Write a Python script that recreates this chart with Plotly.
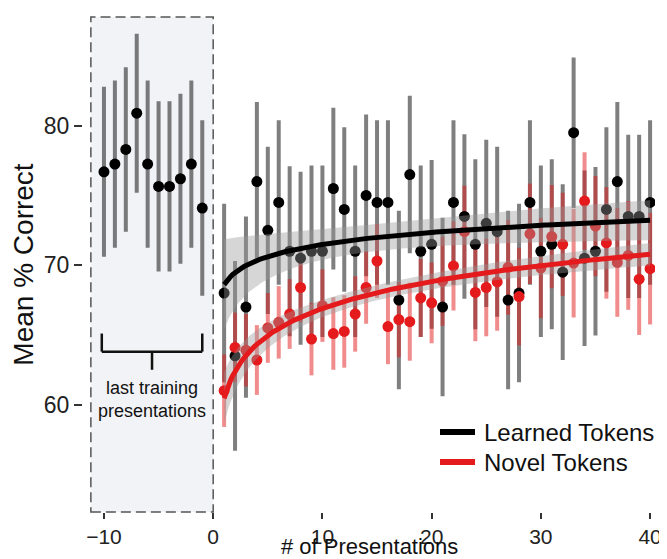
import numpy as np
import plotly.graph_objects as go

# ---------------- data ----------------
train_x = [-10, -9, -8, -7, -6, -5, -4, -3, -2, -1]
train_mean = [76.7, 77.25, 78.3, 80.9, 77.25, 75.65, 75.65, 76.2, 77.25, 74.1]
train_err = [6.1, 6.0, 5.9, 5.7, 6.0, 6.1, 6.1, 6.1, 6.0, 6.3]

test_x = list(range(1, 41))
learned_mean = [68.0, 63.5, 67.0, 76.0, 72.5, 74.5, 71.0, 70.5, 71.0, 71.0,
                75.5, 74.0, 71.0, 75.0, 74.5, 74.5, 67.5, 76.5, 71.0, 71.5,
                67.0, 74.5, 73.5, 71.5, 73.0, 72.4, 67.5, 68.0, 74.5, 71.0,
                71.5, 69.5, 79.5, 70.5, 71.0, 74.0, 76.0, 73.5, 73.5, 74.5]
learned_err = [6.4, 6.8, 6.5, 5.7, 6.0, 5.9, 6.1, 6.2, 6.15, 6.15,
               5.8, 5.9, 6.15, 5.8, 5.9, 5.9, 6.4, 5.65, 6.15, 6.05,
               6.4, 5.9, 5.9, 6.1, 6.0, 6.1, 6.4, 6.4, 5.9, 6.15,
               6.1, 6.3, 5.4, 6.3, 6.05, 5.9, 5.7, 5.85, 5.85, 5.9]
novel_mean = [61.0, 64.1, 63.9, 63.2, 65.5, 65.9, 66.5, 68.4, 64.7, 67.1,
              65.1, 65.25, 66.5, 68.4, 70.3, 65.6, 66.1, 65.95, 67.65, 67.3,
              68.85, 69.95, 72.4, 68.05, 68.4, 68.8, 69.85, 67.75, 72.25, 69.8,
              72.05, 71.5, 70.15, 74.6, 72.8, 71.6, 70.2, 70.7, 69.0, 69.75]
novel_err = [2.6, 2.5, 2.6, 2.5, 2.5, 2.6, 2.5, 2.5, 2.6, 2.6,
             2.6, 2.6, 2.7, 2.6, 2.65, 2.7, 2.7, 2.8, 2.8, 2.9,
             3.2, 3.2, 3.3, 3.5, 3.5, 3.5, 3.4, 3.5, 3.6, 3.6,
             3.7, 3.7, 3.9, 3.5, 3.6, 4.0, 3.9, 3.9, 4.0, 4.0]

x_ticks = [-10, 0, 10, 20, 30, 40]
y_ticks = [60, 70, 80]
series_names = ["Learned Tokens", "Novel Tokens"]

# ---------------- style ----------------
BLACK = "#000000"
RED = "#E41A1C"
FONT = "Liberation Sans, Arial, Helvetica, sans-serif"
OFF = 8  # default page body margin around the figure
W, H = 667 - OFF, 559 - OFF
ML, MR, MT, MB = 83 - OFF, 12, 17 - OFF, 47
PW, PH = W - ML - MR, H - MT - MB
X_RANGE = [-11.92, 40.45]
Y_RANGE = [52.3, 87.8]
BOX_LEFT = -11.2


def px_to_paper(px, py):
    """page pixel -> paper coordinates"""
    return (px - OFF - ML) / PW, (H - MB - (py - OFF)) / PH


def log_fit(xv, yv):
    xv = np.asarray(xv, float)
    yv = np.asarray(yv, float)
    lx = np.log(xv)
    X = np.column_stack([np.ones_like(lx), lx])
    beta, *_ = np.linalg.lstsq(X, yv, rcond=None)
    n = len(yv)
    resid = yv - X @ beta
    s2 = (resid ** 2).sum() / (n - 2)
    sxx = ((lx - lx.mean()) ** 2).sum()
    xs = np.linspace(xv.min(), xv.max(), 200)
    lxs = np.log(xs)
    pred = beta[0] + beta[1] * lxs
    se = np.sqrt(s2 * (1.0 / n + (lxs - lx.mean()) ** 2 / sxx))
    t = 2.024
    return xs, pred, pred - t * se, pred + t * se


fig = go.Figure()

# error bars (drawn first)
fig.add_trace(go.Scatter(
    x=train_x + test_x, y=train_mean + learned_mean, mode="markers",
    marker=dict(color="rgba(0,0,0,0)", size=1),
    error_y=dict(type="data", array=train_err + learned_err, visible=True,
                 color="rgba(0,0,0,0.5)", thickness=4, width=0),
    showlegend=False, hoverinfo="skip"))
fig.add_trace(go.Scatter(
    x=test_x, y=novel_mean, mode="markers",
    marker=dict(color="rgba(0,0,0,0)", size=1),
    error_y=dict(type="data", array=novel_err, visible=True,
                 color="rgba(228,26,28,0.5)", thickness=4, width=0),
    showlegend=False, hoverinfo="skip"))

# points
fig.add_trace(go.Scatter(
    x=train_x + test_x, y=train_mean + learned_mean, mode="markers",
    marker=dict(color=BLACK, size=11), showlegend=False))
fig.add_trace(go.Scatter(
    x=test_x, y=novel_mean, mode="markers",
    marker=dict(color=RED, size=11), showlegend=False))

# fits with confidence ribbons
for yv, col in [(learned_mean, BLACK), (novel_mean, RED)]:
    xs, pred, lo, hi = log_fit(test_x, yv)
    fig.add_trace(go.Scatter(x=xs, y=lo, mode="lines", line=dict(width=0),
                             showlegend=False, hoverinfo="skip"))
    fig.add_trace(go.Scatter(x=xs, y=hi, mode="lines", line=dict(width=0),
                             fill="tonexty", fillcolor="rgba(153,153,153,0.4)",
                             showlegend=False, hoverinfo="skip"))
    fig.add_trace(go.Scatter(x=xs, y=pred, mode="lines",
                             line=dict(color=col, width=5), showlegend=False))

# dashed training region box
fig.add_shape(type="rect", xref="x", yref="paper", x0=BOX_LEFT, x1=0, y0=0, y1=1,
              fillcolor="#F2F3F6", line=dict(color="#555555", width=1.5, dash="10px,5px"),
              layer="below")

# bracket
bx0 = min(train_x) - 0.2
bx1 = max(train_x)
bmid = (bx0 + bx1) / 2
by = 63.8
for shp in [dict(x0=bx0, x1=bx1, y0=by, y1=by),
            dict(x0=bx0, x1=bx0, y0=by, y1=by + 1.3),
            dict(x0=bx1, x1=bx1, y0=by, y1=by + 1.3),
            dict(x0=bmid, x1=bmid, y0=by, y1=by - 1.3)]:
    fig.add_shape(type="line", xref="x", yref="y", line=dict(color="#111111", width=2.5), **shp)

fig.add_annotation(x=bmid, y=60.35, xref="x", yref="y", text="last training<br>presentations",
                   showarrow=False, font=dict(family=FONT, size=18, color="#111111"),
                   align="center")

# legend (drawn manually for exact placement)
for i, (name, col) in enumerate(zip(series_names, [BLACK, RED])):
    py = 432 + 30 * i
    x0p, yp = px_to_paper(440, py)
    x1p, _ = px_to_paper(475, py)
    xtp, _ = px_to_paper(482, py)
    fig.add_shape(type="line", xref="paper", yref="paper", x0=x0p, x1=x1p, y0=yp, y1=yp,
                  line=dict(color=col, width=6))
    fig.add_annotation(x=xtp, y=yp, xref="paper", yref="paper", text=name, showarrow=False,
                       xanchor="left", yanchor="middle",
                       font=dict(family=FONT, size=24, color="#111111"))

# x-axis title
_, yt = px_to_paper(373, 546)
fig.add_annotation(x=0.5, y=yt, xref="paper", yref="paper", text="# of Presentations",
                   showarrow=False, xanchor="center", yanchor="middle",
                   font=dict(family=FONT, size=22, color="#111111"))

fig.update_layout(
    width=W, height=H,
    margin=dict(l=ML, r=MR, t=MT, b=MB, autoexpand=False),
    paper_bgcolor="white", plot_bgcolor="white",
    font=dict(family=FONT, size=23, color="#222222"),
    showlegend=False,
)
fig.update_xaxes(range=X_RANGE, tickvals=x_ticks, showgrid=False, zeroline=False,
                 showline=False, ticks="outside", ticklen=6, tickwidth=2, tickcolor="#333333",
                 tickfont=dict(size=21), automargin=False)
fig.update_yaxes(range=Y_RANGE, tickvals=y_ticks, showgrid=False, zeroline=False,
                 showline=False, ticks="outside", ticklen=8, tickwidth=2, tickcolor="#333333",
                 automargin=False,
                 title=dict(text="Mean % Correct", standoff=4, font=dict(color="#111111")))

fig.write_html("out.html")
